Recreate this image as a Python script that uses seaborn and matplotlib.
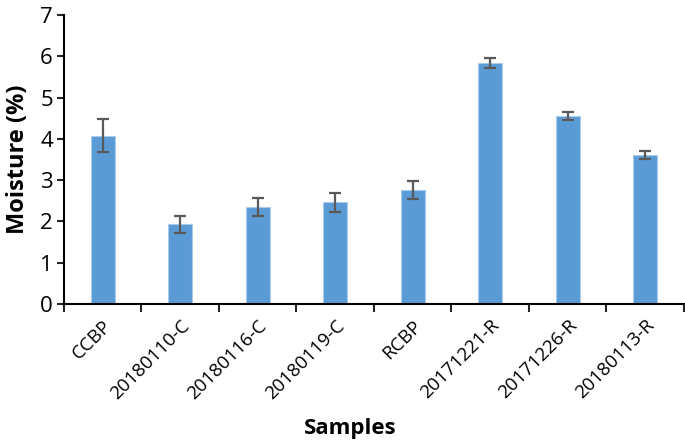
import numpy as np
import pandas as pd
import seaborn as sns
import matplotlib.pyplot as plt

samples = ["CCBP", "20180110-C", "20180116-C", "20180119-C",
           "RCBP", "20171221-R", "20171226-R", "20180113-R"]
moisture = [4.08, 1.93, 2.35, 2.46, 2.76, 5.84, 4.56, 3.61]
moisture_err = [0.40, 0.21, 0.21, 0.22, 0.22, 0.12, 0.10, 0.09]

df = pd.DataFrame({"sample": samples, "moisture": moisture})

sns.set_style("white")
plt.rcParams['font.family'] = ['Open Sans', 'DejaVu Sans']

fig = plt.figure(figsize=(6.85, 4.47), dpi=100)
ax = fig.add_axes([0.0934, 0.32, 0.905, 0.646])

sns.barplot(data=df, x="sample", y="moisture", color="#5B9BD5", saturation=1,
            width=0.31, edgecolor="#A9CBEA", linewidth=0.8, errorbar=None, ax=ax)
ax.errorbar(np.arange(len(samples)), moisture, yerr=moisture_err, fmt="none",
            ecolor="#595959", elinewidth=1.6, capsize=4.5, capthick=1.6)

ax.set_ylim(0, 7)
ax.set_xlim(-0.5, len(samples) - 0.5)
ax.set_yticks(range(0, 8))
ax.tick_params(axis="y", labelsize=16, length=5, width=1.5, direction="out",
               left=True, pad=3, labelcolor="black")

# category-boundary ticks on x
ax.set_xticks(np.arange(-0.5, len(samples) + 0.5, 1), minor=True)
ax.tick_params(axis="x", which="minor", length=6, width=1.5, direction="out", bottom=True)
ax.tick_params(axis="x", which="major", length=0, labelsize=13.5, pad=9, labelcolor="black")
ax.set_xticks(range(len(samples)))
ax.set_xticklabels(samples, rotation=45, ha="right", rotation_mode="anchor")

for s in ["top", "right"]:
    ax.spines[s].set_visible(False)
for s in ["left", "bottom"]:
    ax.spines[s].set_color("black")
    ax.spines[s].set_linewidth(1.5)

ax.set_xlabel("Samples", fontsize=16, fontweight="bold", color="black")
ax.set_ylabel("Moisture (%)", fontsize=17, fontweight="bold", color="black")
ax.xaxis.set_label_coords(0.461, -0.432)
ax.xaxis.label.set_va("center")
ax.yaxis.set_label_coords(-0.074, 0.5)
ax.yaxis.label.set_va("center")

fig.savefig("out.png", dpi=100)
